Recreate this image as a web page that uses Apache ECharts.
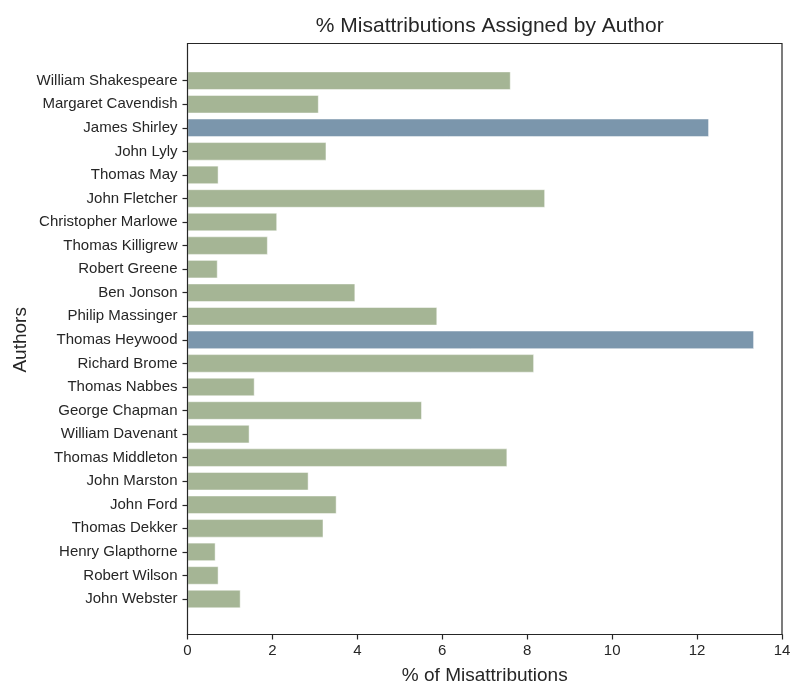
<!DOCTYPE html>
<html>
<head>
<meta charset="utf-8">
<script src="https://cdn.jsdelivr.net/npm/echarts@6/dist/echarts.min.js"></script>
<style>
html,body{margin:0;padding:0;background:#fff;}
#chart{width:792px;height:682px;}
</style>
</head>
<body>
<div id="chart"></div>
<script>
const authors = [
  'William Shakespeare','Margaret Cavendish','James Shirley','John Lyly','Thomas May',
  'John Fletcher','Christopher Marlowe','Thomas Killigrew','Robert Greene','Ben Jonson',
  'Philip Massinger','Thomas Heywood','Richard Brome','Thomas Nabbes','George Chapman',
  'William Davenant','Thomas Middleton','John Marston','John Ford','Thomas Dekker',
  'Henry Glapthorne','Robert Wilson','John Webster'
];
const misattributionPct = [
  7.61, 3.09, 12.28, 3.27, 0.73,
  8.42, 2.11, 1.89, 0.71, 3.95,
  5.88, 13.34, 8.16, 1.58, 5.52,
  1.46, 7.53, 2.85, 3.51, 3.20,
  0.66, 0.73, 1.25
];
const xTicks = [0, 2, 4, 6, 8, 10, 12, 14];

const GREEN = '#a5b595';
const BLUE = '#7b96ac';
const TEXT = '#262626';
const FONT = '"Liberation Sans", Arial, sans-serif';

const chart = echarts.init(document.getElementById('chart'), null, {renderer: 'canvas'});
const L = 187.5, W = 594.5;
chart.setOption({
  animation: false,
  backgroundColor: '#ffffff',
  title: {
    text: '% Misattributions Assigned by Author',
    left: L + W / 2, top: 11, textAlign: 'center',
    textStyle: {fontFamily: FONT, fontSize: 21, fontWeight: 'normal', color: TEXT}
  },
  grid: [
    {left: L, width: W, top: 68.9, height: 541.9, containLabel: false, outerBoundsMode: 'none'},
    {left: L, width: W, top: 43.5, height: 591, containLabel: false, outerBoundsMode: 'none',
     show: true, borderColor: '#262626', borderWidth: 1.2, backgroundColor: 'transparent', z: 5}
  ],
  xAxis: [
    {gridIndex: 0, type: 'value', min: xTicks[0], max: xTicks[xTicks.length - 1], interval: 2, show: false},
    {gridIndex: 1, type: 'value', min: xTicks[0], max: xTicks[xTicks.length - 1], interval: 2,
     axisLine: {show: true, lineStyle: {color: '#262626', width: 1.2}},
     axisTick: {show: true, length: 5, lineStyle: {color: '#262626', width: 1.2}},
     axisLabel: {fontFamily: FONT, fontSize: 15, color: TEXT, margin: 9},
     splitLine: {show: false},
     name: '% of Misattributions', nameLocation: 'middle', nameGap: 32, nameMoveOverlap: false,
     nameTextStyle: {fontFamily: FONT, fontSize: 19, color: TEXT}
    }
  ],
  yAxis: [
    {gridIndex: 0, type: 'category', data: authors, inverse: true,
     axisLine: {show: false},
     axisTick: {show: true, alignWithLabel: true, length: 5, lineStyle: {color: '#262626', width: 1.2}},
     axisLabel: {fontFamily: FONT, fontSize: 15, color: TEXT, margin: 10},
     name: 'Authors', nameLocation: 'middle', nameGap: 157, nameRotate: 90, nameMoveOverlap: false,
     nameTextStyle: {fontFamily: FONT, fontSize: 19, color: TEXT}
    },
    {gridIndex: 1, type: 'value', min: 0, max: 1, show: false}
  ],
  series: [{
    type: 'bar',
    xAxisIndex: 0, yAxisIndex: 0,
    data: misattributionPct,
    barWidth: '78%',
    itemStyle: {
      color: p => p.value > 10 ? BLUE : GREEN,
      borderColor: 'rgba(255,255,255,0.6)', borderWidth: 0.8
    }
  }]
});
</script>
</body>
</html>
